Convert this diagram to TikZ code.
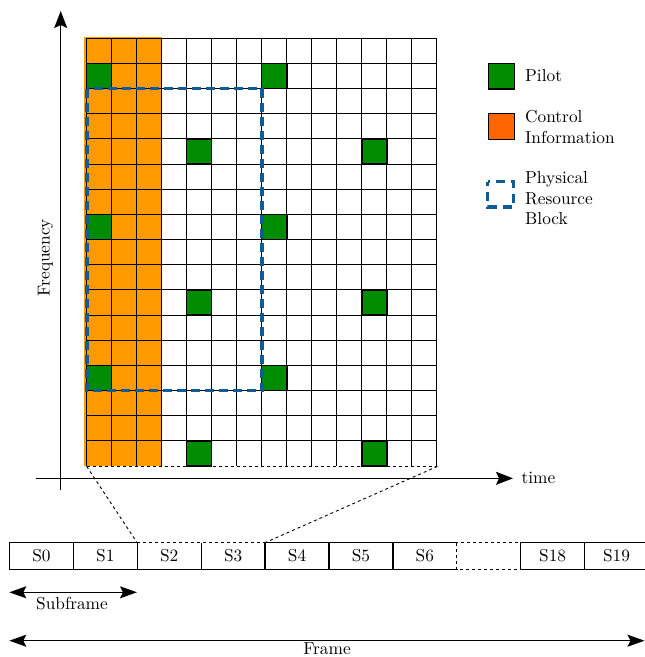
\documentclass[tikz,border=0pt]{standalone}
\usepackage{fontspec}
\setmainfont{lmroman10-regular.otf}
\usetikzlibrary{arrows.meta}
\definecolor{pilotgreen}{RGB}{0,140,0}
\definecolor{ctrlorange}{RGB}{255,153,0}
\definecolor{legorange}{RGB}{255,102,0}
\definecolor{prbblue}{RGB}{14,92,152}
\tikzset{
  lbl/.style={font=\fontsize{17.3}{20.5}\selectfont, inner sep=0pt},
  gridline/.style={line width=1pt},
  pilotcell/.style={draw=black, line width=1.3pt, fill=pilotgreen},
  prb/.style={draw=prbblue, line width=3.6pt, dash pattern=on 9pt off 5pt},
  axisline/.style={line width=1.3pt, -{Stealth[length=17pt,width=13pt,inset=3pt]}},
  slot/.style={lbl, minimum width=63.9pt, minimum height=26pt, anchor=north west, inner sep=0pt},
  dblarrow/.style={line width=1.3pt, {Stealth[length=17pt,width=12pt,inset=3pt]}-{Stealth[length=17pt,width=12pt,inset=3pt]}},
  zoomline/.style={dashed, line width=0.9pt},
  boxline/.style={line width=1.1pt},
}
\begin{document}
\begin{tikzpicture}[x=1pt,y=-1pt]
\useasboundingbox (0,0) rectangle (645,657);

% resource grid
\node[minimum width=350.3pt, minimum height=427.7pt, inner sep=0pt, anchor=north west] (grid) at (86.7,38.3) {};
\begin{scope}[shift={(86.7,38.3)}, x=25.02pt, y=-25.16pt]
  \fill[ctrlorange] (-0.09,-0.04) rectangle (3,17);
  \foreach \r in {0,...,16} \draw[gridline] (0,\r) -- (14,\r);
  \draw[dashed, line width=0.8pt] (0,17) -- (14,17);
  \foreach \c in {0,...,14} \draw[gridline] (\c,0) -- (\c,17);
  \foreach \r/\c in {1/0,1/7,4/4,4/11,7/0,7/7,10/4,10/11,13/0,13/7,16/4,16/11}
    \draw[pilotcell] (\c,\r) rectangle (\c+1,\r+1);
  \draw[prb] (0,2) rectangle (7,14);
\end{scope}

% axes
\coordinate (yaxS) at (60.7,490);
\coordinate (yaxE) at (60.7,11);
\coordinate (xaxS) at (36,478.3);
\coordinate (xaxE) at (513,478.3);
\draw[axisline] (yaxS) -- (yaxE);
\draw[axisline] (xaxS) -- (xaxE);
\node[lbl] (tm) at (538.5,478) {time};
\node[lbl, rotate=90] (fq) at (45.5,257.5) {Frequency};

% legend
\draw[pilotcell] (488.3,63.3) rectangle (514.3,89);
\node[lbl, anchor=west] (lp) at (525,76) {Pilot};
\draw[draw=black, line width=1.3pt, fill=legorange] (488.3,113.3) rectangle (514.3,139.3);
\node[lbl, anchor=west, align=left] (lc) at (525,127) {Control\\Information};
\draw[draw=prbblue, line width=3.6pt, dash pattern=on 9pt off 6pt, dash phase=4.5pt] (487.5,181.5) rectangle (513.5,207);
\node[lbl, anchor=west, align=left] (lr) at (525,198.5) {Physical\\Resource\\Block};

% frame of slots
\foreach \i/\t in {0/S0,1/S1,2/S2,3/S3,4/S4,5/S5,6/S6,7/{},8/S18,9/S19}
  \node[slot] (s\i) at ({9.3+63.9*\i},542.7) {\t};
\foreach \i in {0,1,4,5,8,9}
  \draw[boxline] (s\i.north west) rectangle (s\i.south east);
\draw[boxline] (s6.north east) -- (s6.north west) -- (s6.south west) -- (s6.south east);
\draw[boxline] (s2.north west) -- (s2.south west) -- (s3.south east) -- (s3.north east);
\draw[boxline] (s2.south east) -- (s2.north east);
\draw[dashed, line width=0.7pt] (s2.north west) -- (s3.north east);
\draw[dashed, line width=1pt] (s7.north west) rectangle (s7.south east);

% zoom lines
\draw[zoomline] (grid.south west) -- (s2.north west);
\draw[zoomline] (grid.south east) -- (s4.north west);

% subframe / frame arrows
\coordinate (sfL) at (9.3,592.3);
\coordinate (sfR) at (137,592.3);
\draw[dblarrow] (sfL) -- (sfR);
\node[lbl] (sfl) at (72,604) {Subframe};
\coordinate (frL) at (9.3,640.7);
\coordinate (frR) at (644.5,640.7);
\draw[dblarrow] (frL) -- (frR);
\node[lbl] (frl) at (327,648.5) {Frame};
\end{tikzpicture}
\end{document}
